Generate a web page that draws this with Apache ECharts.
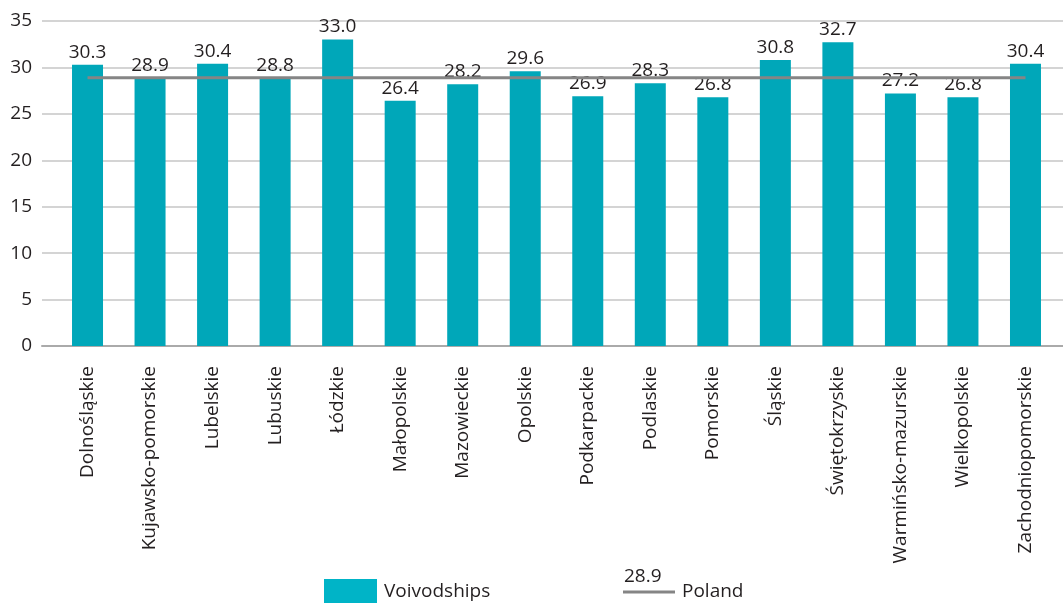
<!DOCTYPE html>
<html>
<head>
<meta charset="utf-8">
<script src="https://cdn.jsdelivr.net/npm/echarts@6/dist/echarts.min.js"></script>
<style>
  html, body { margin: 0; padding: 0; background: #fff; }
  #chart { width: 1063px; height: 603px; }
</style>
</head>
<body>
<div id="chart"></div>
<script>
const categories = [
  'Dolnośląskie', 'Kujawsko-pomorskie', 'Lubelskie', 'Lubuskie', 'Łódzkie',
  'Małopolskie', 'Mazowieckie', 'Opolskie', 'Podkarpackie', 'Podlaskie',
  'Pomorskie', 'Śląskie', 'Świętokrzyskie', 'Warmińsko-mazurskie',
  'Wielkopolskie', 'Zachodniopomorskie'
]
const voivodships = [30.3, 28.9, 30.4, 28.8, 33.0, 26.4, 28.2, 29.6, 26.9, 28.3, 26.8, 30.8, 32.7, 27.2, 26.8, 30.4]
const polandValue = 28.9
const poland = categories.map( () => polandValue )

const font = '"Open Sans", "Noto Sans", sans-serif'
const textColor = '#231f20'

const chart = echarts.init( document.getElementById( 'chart' ) )

chart.setOption( {
  animation : false,
  backgroundColor : '#fff',
  textStyle : { fontFamily : font },
  grid : [
    // background grid: gridlines and baseline across the full width
    { left : 42, right : 0, top : 21, bottom : 257 },
    // bars sit in a slightly narrower band
    { left : 56.25, width : 1000.5, top : 21, bottom : 257 }
  ],
  xAxis : [
    {
      gridIndex : 0,
      type : 'value',
      min : 0,
      max : 1,
      axisLine : { show : true, onZero : false, lineStyle : { color : '#aaaaaa', width : 2 } },
      axisTick : { show : false },
      axisLabel : { show : false },
      splitLine : { show : false }
    },
    {
      gridIndex : 1,
      type : 'category',
      data : categories,
      axisLine : { show : false },
      axisTick : { show : false },
      axisLabel : {
        rotate : 90,
        interval : 0,
        margin : 20,
        fontSize : 19,
        color : textColor,
        fontFamily : font
      }
    }
  ],
  yAxis : [
    {
      gridIndex : 0,
      type : 'value',
      min : 0,
      max : 35,
      interval : 5,
      axisLine : { show : false },
      axisTick : { show : false },
      axisLabel : { fontSize : 19, color : textColor, margin : 10, fontFamily : font },
      splitLine : { show : true, lineStyle : { color : '#c6c6c6', width : 1.5 } }
    },
    {
      gridIndex : 1,
      type : 'value',
      min : 0,
      max : 35,
      show : false,
      splitLine : { show : false }
    }
  ],
  legend : [
    {
      left : 324,
      top : 579,
      padding : 0,
      itemWidth : 53,
      itemHeight : 26,
      data : [{ name : 'Voivodships', icon : 'rect', itemStyle : { color : '#00b4c7' } }],
      textStyle : { fontSize : 19, color : textColor, fontFamily : font, padding : [0, 0, 0, 2] }
    },
    {
      left : 623,
      top : 582,
      padding : 0,
      itemWidth : 52,
      itemHeight : 3,
      data : [{ name : 'Poland', icon : 'rect', itemStyle : { color : '#858585' } }],
      textStyle : { fontSize : 19, lineHeight : 20, color : textColor, fontFamily : font, padding : [0, 0, 0, 2] }
    }
  ],
  graphic : [
    {
      type : 'text',
      left : 624,
      top : 567,
      style : { text : polandValue.toFixed( 1 ), fontSize : 19, fill : textColor, fontFamily : font }
    }
  ],
  series : [
    {
      name : 'Voivodships',
      type : 'bar',
      xAxisIndex : 1,
      yAxisIndex : 1,
      data : voivodships,
      barWidth : 31,
      itemStyle : { color : '#00a7b9' },
      label : {
        show : true,
        position : 'top',
        distance : 3,
        fontSize : 19,
        color : textColor,
        fontFamily : font,
        formatter : p => p.value.toFixed( 1 )
      },
      z : 2
    },
    {
      name : 'Poland',
      type : 'line',
      xAxisIndex : 1,
      yAxisIndex : 1,
      data : poland,
      symbol : 'none',
      lineStyle : { color : '#858585', width : 3 },
      itemStyle : { color : '#858585' },
      z : 3
    }
  ]
} )
</script>
</body>
</html>
